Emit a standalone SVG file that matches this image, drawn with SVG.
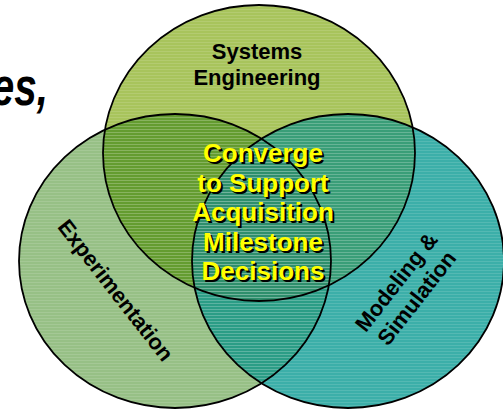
<svg xmlns="http://www.w3.org/2000/svg" width="503" height="409" viewBox="0 0 503 409">
  <style>
    .lbl { font-family: "Liberation Sans", Arial, sans-serif; font-weight: bold; font-size: 22px; fill: #000; text-anchor: middle; }
    .ctr { font-family: "Liberation Sans", Arial, sans-serif; font-weight: bold; font-size: 26px; text-anchor: middle; }
    .outline { fill: none; stroke: #000; stroke-width: 1.8; }
  </style>
  <defs>
    <clipPath id="clipL"><ellipse cx="175" cy="261" rx="156" ry="147"/></clipPath>
    <clipPath id="clipR"><ellipse cx="348" cy="261" rx="156" ry="147"/></clipPath>
    <pattern id="stripes" width="6" height="3" patternUnits="userSpaceOnUse">
      <rect x="0" y="0" width="6" height="1" fill="#ffffff" opacity="0.12"/>
    </pattern>
  </defs>
  <rect width="503" height="409" fill="#ffffff"/>

  <!-- title fragment -->
  <text transform="translate(48,105) scale(0.75,1)" x="0" y="0" style="font-family:'Liberation Sans',Arial,sans-serif;font-weight:bold;font-style:italic;font-size:54px;text-anchor:end;fill:#000">es,</text>

  <!-- nodes: base fills -->
  <g id="experimentation">
    <ellipse cx="175" cy="261" rx="156" ry="147" fill="#97c086"/>
  </g>
  <g id="modeling-simulation">
    <ellipse cx="348" cy="261" rx="156" ry="147" fill="#3cafa9"/>
  </g>
  <g id="systems-engineering">
    <ellipse cx="259" cy="153" rx="156" ry="148" fill="#a8c45c"/>
  </g>

  <!-- overlaps -->
  <g id="overlaps">
    <g clip-path="url(#clipL)"><ellipse cx="259" cy="153" rx="156" ry="148" fill="#649c30"/></g>
    <g clip-path="url(#clipR)"><ellipse cx="259" cy="153" rx="156" ry="148" fill="#3a9e78"/></g>
    <g clip-path="url(#clipR)"><ellipse cx="175" cy="261" rx="156" ry="147" fill="#2b9d86"/></g>
    <g clip-path="url(#clipR)"><g clip-path="url(#clipL)"><ellipse cx="259" cy="153" rx="156" ry="148" fill="#2e8f6c"/></g></g>
  </g>

  <!-- texture -->
  <g id="texture">
    <ellipse cx="175" cy="261" rx="156" ry="147" fill="url(#stripes)"/>
    <ellipse cx="348" cy="261" rx="156" ry="147" fill="url(#stripes)"/>
    <ellipse cx="259" cy="153" rx="156" ry="148" fill="url(#stripes)"/>
  </g>

  <!-- outlines -->
  <g id="outlines">
    <ellipse class="outline" cx="175" cy="261" rx="156" ry="147"/>
    <ellipse class="outline" cx="348" cy="261" rx="156" ry="147"/>
    <ellipse class="outline" cx="259" cy="153" rx="156" ry="148"/>
  </g>

  <g id="connectors"></g>

  <!-- labels -->
  <g id="systems-engineering-label">
    <text class="lbl" x="257" y="59">Systems</text>
    <text class="lbl" x="257" y="85">Engineering</text>
  </g>
  <g id="experimentation-label">
    <text class="lbl" transform="translate(116,290) rotate(52)" x="0" y="8">Experimentation</text>
  </g>
  <g id="modeling-simulation-label" transform="translate(406.5,290) rotate(-52)">
    <text class="lbl" x="0" y="-5.5">Modeling &amp;</text>
    <text class="lbl" x="0" y="20.5">Simulation</text>
  </g>

  <!-- center -->
  <g id="converge">
    <g class="ctr" fill="#000" transform="translate(2,2)">
      <text x="263" y="162">Converge</text>
      <text x="263" y="192">to Support</text>
      <text x="263" y="221">Acquisition</text>
      <text x="263" y="251">Milestone</text>
      <text x="263" y="280">Decisions</text>
    </g>
    <g class="ctr" fill="#ffff00">
      <text x="263" y="162">Converge</text>
      <text x="263" y="192">to Support</text>
      <text x="263" y="221">Acquisition</text>
      <text x="263" y="251">Milestone</text>
      <text x="263" y="280">Decisions</text>
    </g>
  </g>
</svg>
